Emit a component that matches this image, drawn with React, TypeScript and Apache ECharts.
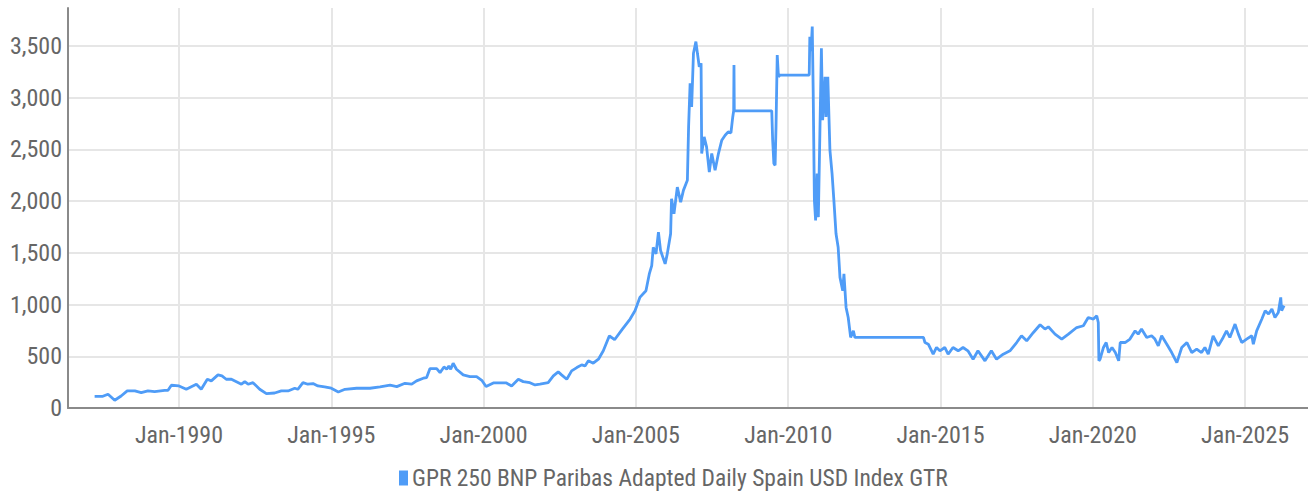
import React, { useEffect, useRef } from "react";
import * as echarts from "echarts";

// Decimal years (x) and index values (y)
const years = [
  1987.23, 1987.5, 1987.67, 1987.89, 1988.1, 1988.3, 1988.55, 1988.76, 1988.98, 1989.2,
  1989.53, 1989.64, 1989.75, 1990.0, 1990.24, 1990.57, 1990.73, 1990.93, 1991.06, 1991.28,
  1991.41, 1991.55, 1991.72, 1992.05, 1992.16, 1992.27, 1992.43, 1992.65, 1992.87, 1993.14,
  1993.36, 1993.58, 1993.8, 1993.9, 1994.07, 1994.23, 1994.4, 1994.56, 1994.78, 1995.0,
  1995.23, 1995.45, 1995.83, 1996.27, 1996.6, 1996.93, 1997.15, 1997.42, 1997.64, 1997.8,
  1998.02, 1998.13, 1998.24, 1998.46, 1998.57, 1998.7, 1998.79, 1998.86, 1998.92, 1999.0,
  1999.11, 1999.33, 1999.55, 1999.77, 1999.94, 2000.08, 2000.32, 2000.75, 2000.92, 2001.14,
  2001.3, 2001.52, 2001.69, 2001.85, 2002.12, 2002.29, 2002.45, 2002.56, 2002.73, 2002.89,
  2003.06, 2003.22, 2003.33, 2003.44, 2003.6, 2003.77, 2003.93, 2004.13, 2004.3, 2004.55,
  2004.81, 2004.97, 2005.13, 2005.33, 2005.44, 2005.52, 2005.57, 2005.66, 2005.74, 2005.81,
  2005.96, 2006.03, 2006.14, 2006.17, 2006.25, 2006.36, 2006.47, 2006.56, 2006.69, 2006.73,
  2006.78, 2006.83, 2006.89, 2006.97, 2007.02, 2007.08, 2007.14, 2007.16, 2007.24, 2007.32,
  2007.41, 2007.49, 2007.6, 2007.71, 2007.82, 2007.93, 2008.03, 2008.12, 2008.18, 2008.21,
  2008.22, 2008.23, 2008.25, 2009.46, 2009.49, 2009.53, 2009.57, 2009.6, 2009.64, 2009.68,
  2009.73, 2010.69, 2010.71, 2010.75, 2010.79, 2010.82, 2010.86, 2010.9, 2010.95, 2010.99,
  2011.04, 2011.09, 2011.13, 2011.21, 2011.24, 2011.3, 2011.37, 2011.44, 2011.5, 2011.57,
  2011.64, 2011.7, 2011.79, 2011.83, 2011.9, 2011.97, 2012.05, 2012.14, 2012.19, 2014.44,
  2014.49, 2014.6, 2014.76, 2014.87, 2014.98, 2015.14, 2015.25, 2015.41, 2015.58, 2015.74,
  2015.9, 2016.07, 2016.23, 2016.46, 2016.67, 2016.84, 2017.06, 2017.28, 2017.5, 2017.66,
  2017.83, 2018.05, 2018.27, 2018.43, 2018.54, 2018.76, 2018.98, 2019.2, 2019.47, 2019.69,
  2019.85, 2020.02, 2020.13, 2020.18, 2020.2, 2020.24, 2020.35, 2020.44, 2020.52, 2020.63,
  2020.74, 2020.85, 2020.9, 2021.06, 2021.22, 2021.39, 2021.49, 2021.6, 2021.77, 2021.93,
  2022.04, 2022.15, 2022.26, 2022.43, 2022.59, 2022.76, 2022.92, 2023.09, 2023.25, 2023.41,
  2023.57, 2023.68, 2023.79, 2023.95, 2024.12, 2024.28, 2024.39, 2024.5, 2024.67, 2024.78,
  2024.89, 2025.05, 2025.22, 2025.27, 2025.38, 2025.55, 2025.66, 2025.77, 2025.88, 2025.98,
  2026.09, 2026.17, 2026.2, 2026.28,
];

const values = [
  113, 113, 133, 75, 116, 165, 165, 148, 165, 158,
  171, 171, 220, 213, 181, 230, 181, 278, 262, 320,
  310, 278, 278, 230, 255, 230, 245, 181, 139, 145,
  165, 165, 191, 181, 245, 230, 236, 213, 204, 191,
  155, 181, 191, 191, 204, 220, 207, 239, 230, 262,
  288, 294, 381, 381, 342, 397, 375, 407, 375, 433,
  375, 320, 304, 304, 268, 207, 242, 242, 213, 278,
  255, 245, 223, 230, 245, 310, 349, 320, 278, 359,
  391, 417, 407, 456, 433, 472, 553, 698, 660, 760,
  860, 940, 1069, 1134, 1296, 1377, 1554, 1490, 1700, 1522,
  1393, 1490, 1684, 2023, 1878, 2136, 1990, 2104, 2201, 2718,
  3138, 2911, 3429, 3542, 3429, 3299, 3332, 2460, 2621, 2524,
  2281, 2460, 2298, 2460, 2589, 2637, 2669, 2660, 2814, 2873,
  3316, 2879, 2873, 2873, 2589, 2363, 2346, 2718, 3413, 3202,
  3219, 3219, 3590, 3450, 3687, 3073, 2007, 1813, 2266, 1845,
  2653, 3477, 2782, 3202, 2814, 3202, 2492, 2266, 2007, 1684,
  1554, 1263, 1134, 1296, 972, 875, 682, 746, 682, 682,
  633, 617, 520, 585, 553, 585, 520, 585, 553, 585,
  553, 472, 553, 456, 553, 472, 520, 553, 633, 698,
  650, 730, 805, 763, 785, 714, 666, 714, 778, 795,
  875, 860, 892, 827, 456, 472, 585, 633, 536, 585,
  536, 456, 633, 633, 666, 746, 714, 763, 682, 698,
  666, 601, 698, 617, 536, 439, 585, 633, 536, 569,
  536, 585, 520, 698, 601, 682, 746, 682, 811, 714,
  633, 666, 698, 617, 746, 860, 940, 908, 957, 875,
  924, 1069, 940, 989,
];

const seriesName = "GPR 250 BNP Paribas Adapted Daily Spain USD Index GTR";
const xStart = 1986.356;
const xEnd = 2027.065;
const yMax = 3867;

const FONT = "'Liberation Sans Narrow', 'Roboto Condensed', 'Arial Narrow', Roboto, sans-serif";

export default function App() {
  const ref = useRef<HTMLDivElement>(null);

  useEffect(() => {
    document.body.style.margin = "0";
    if (!ref.current) return;
    const chart = echarts.init(ref.current, undefined, { renderer: "svg" });
    const data = years.map((y, i) => [y, values[i]]);
    chart.setOption({
      animation: false,
      grid: { left: 68, right: 0, top: 8, bottom: 85, containLabel: false },
      legend: {
        data: [seriesName],
        top: 461,
        left: 394,
        icon: "rect",
        itemWidth: 9,
        itemHeight: 15,
        itemGap: 6,
        textStyle: { fontFamily: FONT, fontSize: 23.5, color: "#666", padding: [0, 0, 0, -1] },
      },
      xAxis: {
        type: "value",
        min: xStart,
        max: xEnd,
        splitNumber: 8,
        minInterval: 5,
        maxInterval: 5,
        axisLine: { show: true, lineStyle: { color: "#8a8a8a", width: 2 } },
        axisTick: { show: false },
        axisLabel: {
          fontFamily: FONT,
          fontSize: 24,
          color: "#666",
          margin: 15,
          showMinLabel: false,
          showMaxLabel: false,
          formatter: (v: number) => {
            const r = Math.round(v);
            return Math.abs(v - r) < 1e-6 && r % 5 === 0 ? "Jan-" + r : "";
          },
        },
        splitLine: {
          show: true,
          showMinLine: false,
          showMaxLine: false,
          lineStyle: { color: "#e6e6e6", width: 2 },
        },
      },
      yAxis: {
        type: "value",
        min: 0,
        max: yMax,
        interval: 500,
        axisLine: { show: true, lineStyle: { color: "#8a8a8a", width: 2 } },
        axisTick: { show: false },
        axisLabel: {
          fontFamily: FONT,
          fontSize: 24,
          color: "#666",
          margin: 6,
          showMaxLabel: false,
          formatter: (v: number) => (v % 500 === 0 ? v.toLocaleString("en-US") : ""),
        },
        splitLine: {
          show: true,
          showMaxLine: false,
          lineStyle: { color: "#e6e6e6", width: 2 },
        },
      },
      series: [
        {
          name: seriesName,
          type: "line",
          data,
          showSymbol: false,
          symbol: "none",
          lineStyle: { color: "#4f9cf7", width: 2.8 },
          itemStyle: { color: "#4f9cf7" },
        },
      ],
    });
    return () => chart.dispose();
  }, []);

  return <div ref={ref} style={{ width: 1308, height: 493 }} />;
}
